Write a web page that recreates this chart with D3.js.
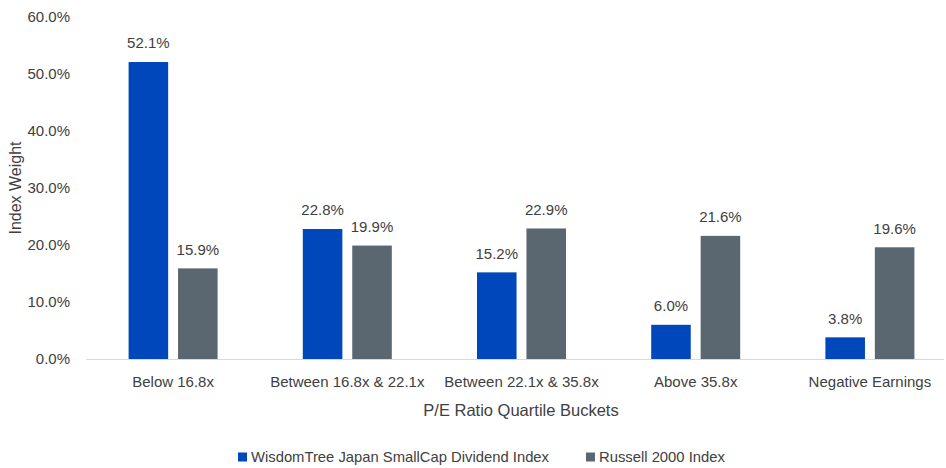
<!DOCTYPE html>
<html>
<head>
<meta charset="utf-8">
<script src="https://cdn.jsdelivr.net/npm/d3@7"></script>
<style>
  body { margin: 0; background: #fff; }
  text { font-family: "Liberation Sans", Arial, sans-serif; fill: #404040; }
</style>
</head>
<body>
<div id="vis"></div>
<script>
const categories = ['Below 16.8x', 'Between 16.8x & 22.1x', 'Between 22.1x & 35.8x', 'Above 35.8x', 'Negative Earnings'];
const seriesNames = ['WisdomTree Japan SmallCap Dividend Index', 'Russell 2000 Index'];
const wisdomTree = [52.1, 22.8, 15.2, 6.0, 3.8];
const russell2000 = [15.9, 19.9, 22.9, 21.6, 19.6];
const yTicks = [0, 10, 20, 30, 40, 50, 60];

const colors = ['#0047BB', '#5B6770'];

const W = 946;
const H = 468;

const svg = d3.select('#vis').append('svg')
    .attr('width', W)
    .attr('height', H);

const x0 = d3.scaleBand()
    .domain(categories)
    .range([86, 957])
    .padding(0);

const groupW = 89;
const x1 = d3.scaleBand()
    .domain(seriesNames)
    .range([0, groupW])
    .paddingInner(0.2)
    .paddingOuter(0);

const y = d3.scaleLinear()
    .domain([0, 60])
    .range([359, 17]);

const rows = categories.map((c, i) => ({
  cat: c,
  vals: [wisdomTree[i], russell2000[i]]
}));

// y axis labels
svg.append('g')
  .selectAll('text')
  .data(yTicks)
  .join('text')
    .attr('x', 70)
    .attr('y', d => y(d))
    .attr('dy', '0.35em')
    .attr('text-anchor', 'end')
    .attr('font-size', 15)
    .text(d => d.toFixed(1) + '%');

// baseline
svg.append('line')
    .attr('x1', 86)
    .attr('x2', 944)
    .attr('y1', y(0) + 0.5)
    .attr('y2', y(0) + 0.5)
    .attr('stroke', '#d9d9d9')
    .attr('stroke-width', 1);

// bars
const groups = svg.append('g')
  .selectAll('g')
  .data(rows)
  .join('g')
    .attr('transform', d => `translate(${x0(d.cat) + x0.bandwidth() / 2 - groupW / 2},0)`);

groups.selectAll('rect')
  .data(d => d.vals.map((v, j) => ({v, s: seriesNames[j], j})))
  .join('rect')
    .attr('x', d => x1(d.s))
    .attr('width', x1.bandwidth())
    .attr('y', d => y(d.v))
    .attr('height', d => y(0) - y(d.v))
    .attr('fill', d => colors[d.j]);

groups.selectAll('text')
  .data(d => d.vals.map((v, j) => ({v, s: seriesNames[j], j})))
  .join('text')
    .attr('x', d => x1(d.s) + x1.bandwidth() / 2)
    .attr('y', d => y(d.v) - 19)
    .attr('dy', '0.35em')
    .attr('text-anchor', 'middle')
    .attr('font-size', 15)
    .text(d => d.v.toFixed(1) + '%');

// category labels
svg.append('g')
  .selectAll('text')
  .data(categories)
  .join('text')
    .attr('x', d => x0(d) + x0.bandwidth() / 2)
    .attr('y', 382)
    .attr('dy', '0.35em')
    .attr('text-anchor', 'middle')
    .attr('font-size', 15)
    .text(d => d);

// axis titles
svg.append('text')
    .attr('x', 521)
    .attr('y', 410)
    .attr('dy', '0.35em')
    .attr('text-anchor', 'middle')
    .attr('font-size', 16.5)
    .text('P/E Ratio Quartile Buckets');

svg.append('text')
    .attr('transform', 'translate(15,188) rotate(-90)')
    .attr('dy', '0.35em')
    .attr('text-anchor', 'middle')
    .attr('font-size', 16)
    .text('Index Weight');

// legend
const legendX = [238, 586];
const legend = svg.append('g')
  .selectAll('g')
  .data(seriesNames)
  .join('g')
    .attr('transform', (d, i) => `translate(${legendX[i]},457)`);

legend.append('rect')
    .attr('x', 0)
    .attr('y', -4.5)
    .attr('width', 9)
    .attr('height', 9)
    .attr('fill', (d, i) => colors[i]);

legend.append('text')
    .attr('x', 13)
    .attr('y', 0)
    .attr('dy', '0.35em')
    .attr('font-size', 14.8)
    .text(d => d);
</script>
</body>
</html>
